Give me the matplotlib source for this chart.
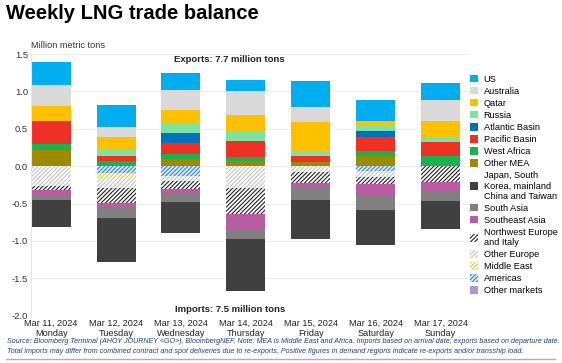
import numpy as np
import matplotlib.pyplot as plt

plt.rcParams['font.family'] = ['Liberation Sans', 'DejaVu Sans']
plt.rcParams['hatch.linewidth'] = 0.8

dates = ['Mar 11, 2024\nMonday', 'Mar 12, 2024\nTuesday', 'Mar 13, 2024\nWednesday',
         'Mar 14, 2024\nThursday', 'Mar 15, 2024\nFriday', 'Mar 16, 2024\nSaturday',
         'Mar 17, 2024\nSunday']

# exports (positive), stacked from zero upward
other_mea = [0.22, 0.0, 0.09, 0.065, 0.06, 0.14, 0.0]
west_africa = [0.07, 0.075, 0.075, 0.06, 0.0, 0.06, 0.14]
pacific = [0.32, 0.055, 0.14, 0.205, 0.07, 0.19, 0.18]
atlantic = [0.0, 0.0, 0.135, 0.0, 0.0, 0.075, 0.0]
russia = [0.0, 0.08, 0.14, 0.135, 0.07, 0.075, 0.07]
qatar = [0.20, 0.175, 0.175, 0.215, 0.39, 0.06, 0.22]
australia = [0.28, 0.135, 0.27, 0.33, 0.195, 0.0, 0.27]
us = [0.30, 0.30, 0.22, 0.14, 0.355, 0.285, 0.23]

# imports (negative), stacked from zero downward
other_markets = [0.0, 0.0, 0.0, 0.0, 0.0, 0.0, 0.0]
americas = [0.0, -0.09, -0.13, 0.0, 0.0, -0.07, 0.0]
middle_east = [0.0, -0.06, 0.0, 0.0, 0.0, 0.0, 0.0]
other_europe = [-0.27, -0.14, -0.065, -0.29, -0.08, -0.075, 0.0]
nw_europe = [-0.05, -0.20, -0.105, -0.355, -0.14, -0.10, -0.21]
se_asia = [-0.06, -0.06, -0.07, -0.20, -0.07, -0.145, -0.13]
south_asia = [-0.07, -0.14, -0.115, -0.125, -0.16, -0.195, -0.12]
japan_korea = [-0.37, -0.59, -0.405, -0.70, -0.52, -0.475, -0.38]

exports = [
    ('Other MEA', other_mea, '#9C8A00', None, None),
    ('West Africa', west_africa, '#1DB04E', None, None),
    ('Pacific Basin', pacific, '#EE3124', None, None),
    ('Atlantic Basin', atlantic, '#0070C0', None, None),
    ('Russia', russia, '#7DE3A3', None, None),
    ('Qatar', qatar, '#FFC000', None, None),
    ('Australia', australia, '#D9D9D9', None, None),
    ('US', us, '#00AEEF', None, None),
]
imports = [
    ('Other markets', other_markets, '#AF9ACB', None, None),
    ('Americas', americas, '#DCEBFA', '////////', '#2E86DE'),
    ('Middle East', middle_east, '#FFFFFF', '////////', '#F2D000'),
    ('Other Europe', other_europe, '#FFFFFF', '////////', '#C4C4C4'),
    ('Northwest Europe\nand Italy', nw_europe, '#FFFFFF', '////////', '#222222'),
    ('Southeast Asia', se_asia, '#BA5CA2', None, None),
    ('South Asia', south_asia, '#808080', None, None),
    ('Japan, South\nKorea, mainland\nChina and Taiwan', japan_korea, '#404040', None, None),
]

fig = plt.figure(figsize=(5.62, 3.63), dpi=100)
ax = fig.add_axes([0.0552, 0.1303, 0.7808, 0.7209])

x = np.arange(len(dates))
width = 0.6
handles = {}

for group in (exports, imports):
    base = np.zeros(len(dates))
    for name, vals, color, hatch, hcolor in group:
        vals = np.array(vals)
        if hatch:
            b = ax.bar(x, vals, width, bottom=base, color=color, hatch=hatch,
                       edgecolor=hcolor, linewidth=0)
        else:
            b = ax.bar(x, vals, width, bottom=base, color=color, linewidth=0)
        handles[name] = b
        base = base + vals

ax.set_ylim(-2.0, 1.5)
ax.set_xlim(-0.31, 6.45)
ax.set_yticks(np.arange(-2.0, 1.51, 0.5))
ax.set_yticklabels(['%.1f' % v for v in np.arange(-2.0, 1.51, 0.5)], fontsize=6.8, color='#333333')
ax.set_xticks(x)
ax.set_xticklabels(dates, fontsize=6.6, color='#222222', linespacing=1.1)
ax.tick_params(length=0, pad=2)
ax.tick_params(axis='x', pad=2.5)
ax.grid(axis='y', color='#EEEEEE', linewidth=0.8)
ax.set_axisbelow(True)
for s in ['top', 'right', 'bottom']:
    ax.spines[s].set_visible(False)
ax.spines['left'].set_color('#E6E6E6')
ax.spines['left'].set_linewidth(0.8)

ax.text(2.75, 1.42, 'Exports: 7.7 million tons', ha='center', va='center',
        fontsize=6.8, fontweight='bold', color='#222222')
ax.text(2.75, -1.92, 'Imports: 7.5 million tons', ha='center', va='center',
        fontsize=6.8, fontweight='bold', color='#222222')

fig.text(0.011, 0.962, 'Weekly LNG trade balance', fontsize=14.5, fontweight='bold',
         va='center', ha='left', color='black')
fig.text(0.0552, 0.876, 'Million metric tons', fontsize=6.6, va='center', ha='left', color='#333333')

order = ['US', 'Australia', 'Qatar', 'Russia', 'Atlantic Basin', 'Pacific Basin', 'West Africa',
         'Other MEA', 'Japan, South\nKorea, mainland\nChina and Taiwan', 'South Asia',
         'Southeast Asia', 'Northwest Europe\nand Italy', 'Other Europe', 'Middle East',
         'Americas', 'Other markets']
fig.legend([handles[n] for n in order], order, loc='upper left', bbox_to_anchor=(0.836, 0.794),
           frameon=False, fontsize=6.6, handlelength=0.9, handleheight=0.9, handletextpad=0.6,
           labelspacing=0.33, borderaxespad=0, borderpad=0)

foot = '#1F3C88'
fig.text(0.012, 0.058, 'Source: Bloomberg Terminal (AHOY JOURNEY <GO>), BloombergNEF. Note: MEA is Middle East and Africa. '
         'Imports based on arrival date; exports based on departure date.', fontsize=5.1, style='italic',
         color=foot, va='center')
fig.text(0.012, 0.033, 'Total imports may differ from combined contract and spot deliveries due to re-exports. '
         'Positive figures in demand regions indicate re-exports and/or transship load.', fontsize=5.1,
         style='italic', color=foot, va='center')
fig.add_artist(plt.Line2D([0.011, 0.988], [0.011, 0.011], color='#B4A7D6', linewidth=1.0))

fig.savefig('out.png', dpi=100)
